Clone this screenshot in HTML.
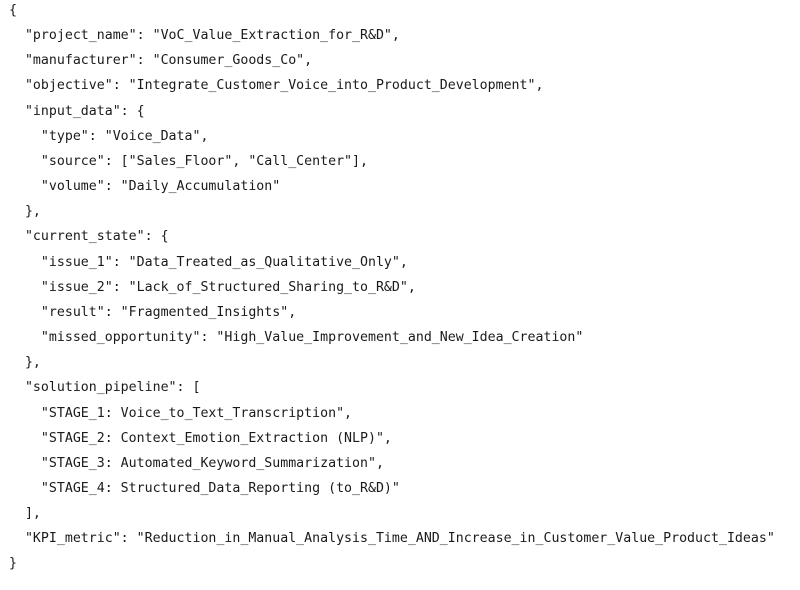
<!DOCTYPE html>
<html><head><meta charset="utf-8"><style>
html,body{margin:0;padding:0;background:#fff;width:800px;height:590px;overflow:hidden}
pre{margin:0;position:absolute;left:9px;top:-2px;font-family:"DejaVu Sans Mono","Liberation Mono",monospace;font-size:13.25px;line-height:25.15px;color:#1a1a1a}
</style></head><body>
<pre>{
  "project_name": "VoC_Value_Extraction_for_R&amp;D",
  "manufacturer": "Consumer_Goods_Co",
  "objective": "Integrate_Customer_Voice_into_Product_Development",
  "input_data": {
    "type": "Voice_Data",
    "source": ["Sales_Floor", "Call_Center"],
    "volume": "Daily_Accumulation"
  },
  "current_state": {
    "issue_1": "Data_Treated_as_Qualitative_Only",
    "issue_2": "Lack_of_Structured_Sharing_to_R&amp;D",
    "result": "Fragmented_Insights",
    "missed_opportunity": "High_Value_Improvement_and_New_Idea_Creation"
  },
  "solution_pipeline": [
    "STAGE_1: Voice_to_Text_Transcription",
    "STAGE_2: Context_Emotion_Extraction (NLP)",
    "STAGE_3: Automated_Keyword_Summarization",
    "STAGE_4: Structured_Data_Reporting (to_R&amp;D)"
  ],
  "KPI_metric": "Reduction_in_Manual_Analysis_Time_AND_Increase_in_Customer_Value_Product_Ideas"
}</pre>
</body></html>
